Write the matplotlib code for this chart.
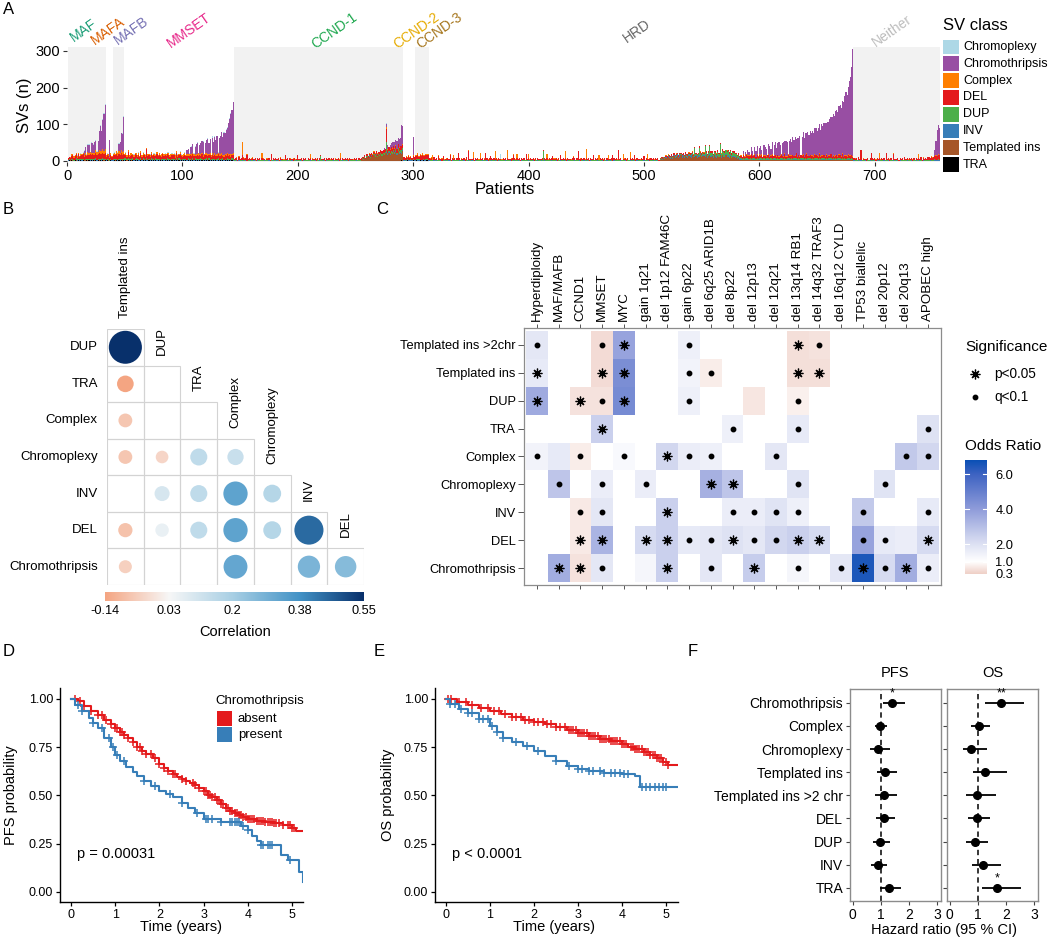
"""
Multi-panel SV figure: SV burden per patient, SV class correlation,
odds-ratio heatmap, Kaplan-Meier curves and hazard-ratio forest plot.
"""

import matplotlib.pyplot as plt
import numpy as np
from matplotlib.patches import Rectangle, Circle
from matplotlib.colors import LinearSegmentedColormap, Normalize
from matplotlib.transforms import blended_transform_factory

plt.rcParams['font.family'] = ['Liberation Sans', 'DejaVu Sans']

# ------------------------------------------------------------------ data A
sv_classes = ['Chromoplexy', 'Chromothripsis', 'Complex', 'DEL', 'DUP', 'INV', 'Templated ins', 'TRA']
sv_colors = {'Chromoplexy': '#ADD8E6', 'Chromothripsis': '#984EA3', 'Complex': '#FF7F00',
             'DEL': '#E41A1C', 'DUP': '#4DAF4A', 'INV': '#377EB8',
             'Templated ins': '#A65628', 'TRA': '#000000'}

groups = ['MAF', 'MAFA', 'MAFB', 'MMSET', 'CCND-1', 'CCND-2', 'CCND-3', 'HRD', 'Neither']
group_colors = ['#1B9E77', '#D95F02', '#7570B3', '#E7298A', '#1FA84F',
                '#E6AB02', '#A6761D', '#666666', '#BDBDBD']

# one token per patient, base-36 counts: TRA, Templated ins, INV, DUP, DEL, Complex, Chromoplexy
sv_tokens = [
    # MAF
    ["1012320 2013510 1101431 2022850 1113a21 0102641 2011922 1124b30 1013361 2112c40",
     "1022531 2111871 1013a40 2021d52 1102742 1113b60 2012931 1121c71 2013a52 1022f41",
     "2112b63 1013d40 2021a82 1112c51 2033e72 1021b93 2112d60 1113fa1 2022c81 1031e72",
     "2122ga2 1113d83 2022fb1"],
    # MAFA
    ["1012741 2021a52 1113850 0012631 2022b41 1011920"],
    # MAFB
    ["1013a52 2021c61 1112b40 2013d71 1021a83 2112e62 1013c51 2022f90 1113b72 2021d81"],
    # MMSET
    ["1015831 2023a52 1112640 2014h61 1013730 2021972 1113b51 2024840 1012662 2013c31",
     "1024950 2012741 1013a72 1021630 2014f51 1012840 2023963 1013b31 2011752 1024p40",
     "1012961 2013a30 1021672 2014c51 1013840 2022933 1011b52 2023641 1014d60 2012831",
     "1023a52 2011940 1014671 2022e30 1013852 2021b41 1012960 2024a33 1013c52 2012640",
     "1021861 2013b32 1014950 2022a41 1011672 2023g30 1012851 2014940 1023c62 2011a31",
     "1014650 2022841 1013b72 2021930 1012a51 2024640 1013863 2012c31 1021952 2014b40",
     "1012a61 2023632 1014850 2021b41 1013972 2012a30 1024651 2013c40 1011862 2022931",
     "1013b50 2014a41 1012972 2023830 1021c51 2012640 1014a63 2013831 1022b52 2011940",
     "1023861 2014c32 1012a50 2021941 1013b72 2024630 1012851 2013a40 1021962 2014b31",
     "1013850 2022a41 1011972 2023830 1014a51"],
    # CCND-1
    ["1001310 0102400 1011520 0001210 1012630 0101300 1002410 1012cz0 1001530 0102310",
     "1011400 0001g20 1002300 0101510 1011200 0002410 1001730 0111300 1002500 0001210",
     "1012400 0101300 1001610 0011200 10025d0 0101410 1011300 0002200 1001420 0102310",
     "1011500 0001300 1002g10 0101200 1011400 0002310 1001500 0111200 1002410 0001300",
     "1012520 0101400 1001300 0011210 1002c00 0101300 1011410 0002200 1001500 0102310",
     "1011300 0001420 1002500 0101210 1011300 0002d10 1001400 0111300 1002510 0001200",
     "1012400 0101310 1001500 0011200 1002400 0101310 10115a0 0002200 1001410 0102300",
     "1011500 0001310 1002400 0101200 1011510 000e300 1001400 0111210 1002500 0001300",
     "1012410 0101300 1001500 0011210 1002400 0101310 1011500 0002200 1001410 0102300",
     "1011400 0001310 10025f0 0101200 1011410 0002300 1001500 0111210 1002400 0001310",
     "1012500 0101300 1001400 0011210 1002500 0101310 1011400 0002200 1001510 0102300",
     "1201410 1501310 1302500 1712410 1401300 1912510 1602410 1b12520 1803610 1d12410",
     "1902510 1e12620 1b03510 1g12710 1a03620 1f12510 1c04710 1i13620 1d04810 1h13710",
     "1e24810 1k13720 1k3tz52 1g24820 1m14910 1f24820 1l15910 1h24a20 1o15910 1i24820",
     "1n26a10 1g15920 1p27a10 1j15920 1m26a10 2h38a20 1q26910"],
    # CCND-2
    ["1012620 0102510 1011830 2021420 1012930 0111610 1022720 1011510 2012830 1021620"],
    # CCND-3
    ["1012a30 2021820 1013c40 1022720 2011b30 1012920 1021d40 2012830 1011a20 1022c30 2013930 1012b40"],
    # HRD
    ["1011420 0102310 1001530 00112c0 1012620 0101300 1011410 0002200 1001c30 0102310",
     "1011300 0001420 1002a10 0101210 1011300 0002410 1001500 0111300 1002e10 0001200",
     "1012400 01013b0 1001600 0011200 1002400 0101j10 1011500 0002200 1001410 0102300",
     "1011500 0001310 1002900 0101200 1011p10 0002300 1001400 0111210 10025g0 0001300",
     "1012410 0101300 1001500 0011210 10024e0 0101310 1011500 0002200 1001410 0102k00",
     "1011400 0001310 1002500 0101c00 1011410 0002300 1001500 01112n0 1002400 0001310",
     "1012500 0101300 100140d 0011210 1002500 0101310 1011400 0002200 10015m0 0102300",
     "1011300 0001520 1002400 0101f10 1011500 0002210 10016a0 0111300 1002400 0001210",
     "1012400 0101310 1001500 0011200 1002h00 0101310 10114c0 0002210 1001500 0102300",
     "1011500 0001310 1002400 0101200 1011510 0002300 1001400 0111210 1002500 000s300",
     "1012410 0101300 10015d0 0011210 1002400 0101310 1011500 0002b00 1001410 0102310",
     "1011400 0001320 1002500 0101200 1011c10 0002300 1001500 0111210 10024j0 0001310",
     "1012500 0101300 1001400 0011210 1002500 0101a10 1011400 0002200 1001510 0102n00",
     "1011300 0001520 1002400 0101310 1011500 0002210 10016p0 0111300 1002400 0001210",
     "1012400 0101310 1001e00 0011200 1002400 0101310 1011400 00022b0 1001500 0102300",
     "1011500 0001310 1002400 0101200 1011510 00023a0 1001400 0111210 1002500 0001g00",
     "1012410 0101300 1001500 0011210 1002q00 0101310 1011500 0002200 10014c0 0102310",
     "1011400 0001320 1002500 0101200 10114h0 0002300 1001500 0111210 1002d00 0001310",
     "1012500 0101300 1001400 0011210 1002500 0101310 1011b00 0002200 1001510 01023e0",
     "1011300 0001520 1002400 0101310 1011500 0002210 1001600 0111300 1002400 0001210",
     "1211400 0511310 1311500 0721200 1411400 0911310 1611400 0b22210 1811500 0622300",
     "1a21500 0631310 1c22400 0841200 1b21510 0d51300 1731400 0b62210 1e21500 0872300",
     "1c22410 0931300 1f21500 0a42210 1832600 0d43310 1b22500 0784200 1e33410 0a22310",
     "1b2l400 0e33300 1824500 0c35210 1a2m600 0f34310 1925500 0d36200 1c24410 0a3r310",
     "1e35500 0836300 1c27400 0g2n210 1a28500 0d37310 1726400 0f28200 1b37510 0926310",
     "1d38400 0a27300 1g3p500 0828210 1e29600 0b3a310 1929500 0f3b200 1b2a410 0c3c310",
     "1829500 0d3b300 1628400 0b3b210 1a29500 0738310 1927400 0526200 1825510 0424310",
     "1133620 0212510 1124730 0213620 1132510 0224830 1133620 0212910 1124530 0213c20",
     "1132610 0224520 1133730 0212610 1124820 0213530 1132a10 0224620 1133730 0212510",
     "1124620 0213830 1132510 0224720 1133930 0212610 1124520 0213b30 1132610 0224520",
     "1133720 0212630 1124810 0213520 1132720 0224930 1133510 0212620 1124c30 0213610",
     "1132520 0224730 1133610 0212820 1124530 0213920 1132610 0224530 1133d20 0212610",
     "1124720 0213530 1132820 0224610 1133930 0212520 1124710 0213e20 1132630 0224510",
     "1133720 0212830 1124610 0213520 1132930 0224710 1133620 0212530 1124b20 0213610",
     "1132720 0224530 1133810 0212620 1124930 0213510 1132720 0224630 1133a10 0212520",
     "1133520 0212720 1124630 0213910 1132520 0224830 1133710 0212620 1124a30 0213510",
     "1124620 0213730 1132510 0224820 1133630 0212910 1124720 0213530"],
    # Neither
    ["1011400 0102310 1001500 0011200 1012610 0101300 1011q10 0002200 1001410 0102300",
     "1011300 0001410 1002500 0101200 1011400 0002k10 1001500 0111200 1002400 0001310",
     "1012410 0101300 10115e0 0011210 1002400 0101310 1011500 0002200 1001j10 0102300",
     "1011500 0001310 1002400 0101200 1011h10 0002300 1001400 0111210 1002500 0001300",
     "1012400 0101310 1001500 0011200 1002800 0101310 1011400 0002210 1001500 0102300",
     "1011400 0001310 1002500 0101200 1011510 0002300 10016c0 0111210 1002700 0001300",
     "1012510 0101400 1001600 0011310 1002700 0101810 1011600 0002a10 1001710 0102900",
     "1013810 0112a10 1012910 0113c10 1012b10"],
]

# chromothripsis SVs of the last patients of each group (groups are sorted by it)
chromothripsis_runs = [
    [12, 15, 0, 20, 22, 0, 25, 28, 20, 30, 25, 0, 30, 50, 70, 55, 80, 100, 122],
    [45, 0, 0],
    [20, 30, 45, 50, 95],
    [10, 15, 0, 18, 20, 25, 0, 22, 28, 30, 0, 25, 30, 32, 35, 0, 28, 35, 40, 30, 38,
     0, 42, 35, 45, 40, 48, 0, 45, 50, 55, 48, 60, 55, 65, 70, 85, 95, 110, 120, 140],
    [5, 0, 8, 10, 0, 12, 10, 15, 12, 18, 15, 20, 18, 22, 20, 55, 50],
    [50, 0],
    [],
    [8, 0, 12, 0, 15, 10, 0, 18, 12, 0, 20, 15, 22, 0, 18, 25, 12, 0, 28, 22,
     20, 0, 25, 30, 18, 32, 0, 28, 35, 22, 32, 38, 28, 0, 35, 40, 32, 42, 38, 0,
     40, 45, 35, 48, 42, 50, 38, 52, 45, 55, 0, 50, 58, 52, 60, 55, 62, 58, 66, 60,
     68, 62, 70, 74, 66, 76, 80, 72, 84, 80, 86, 90, 84, 95, 90, 98, 102, 108, 112, 108,
     118, 124, 120, 130, 136, 132, 142, 150, 160, 172, 168, 185, 200, 215, 240, 292],
    [15, 40, 70, 80, 75],
]

# ------------------------------------------------------------------ data B
corr_rows = ['DUP', 'TRA', 'Complex', 'Chromoplexy', 'INV', 'DEL', 'Chromothripsis']
corr_cols = ['Templated ins', 'DUP', 'TRA', 'Complex', 'Chromoplexy', 'INV', 'DEL']
nan = np.nan
corr_vals = [
    [0.55],
    [-0.14, nan],
    [-0.07, nan, nan],
    [-0.07, -0.04, 0.15, 0.13],
    [nan, 0.10, 0.15, 0.33, 0.17],
    [-0.08, 0.06, 0.15, 0.33, 0.17, 0.45],
    [-0.05, nan, nan, 0.32, nan, 0.28, 0.26],
]
corr_ticks = [-0.14, 0.03, 0.2, 0.38, 0.55]

# ------------------------------------------------------------------ data C
or_rows = ['Templated ins >2chr', 'Templated ins', 'DUP', 'TRA', 'Complex',
           'Chromoplexy', 'INV', 'DEL', 'Chromothripsis']
or_cols = ['Hyperdiploidy', 'MAF/MAFB', 'CCND1', 'MMSET', 'MYC', 'gain 1q21',
           'del 1p12 FAM46C', 'gain 6p22', 'del 6q25 ARID1B', 'del 8p22', 'del 12p13',
           'del 12q21', 'del 13q14 RB1', 'del 14q32 TRAF3', 'del 16q12 CYLD',
           'TP53 biallelic', 'del 20p12', 'del 20q13', 'APOBEC high']
or_vals = [
    [1.8, nan, nan, 0.5, 3.8, nan, nan, 1.5, nan, nan, nan, nan, 0.55, 0.6, nan, nan, nan, nan, nan],
    [1.7, nan, nan, 0.5, 4.5, nan, nan, 1.4, 0.75, nan, nan, nan, 0.55, 0.55, nan, nan, nan, nan, nan],
    [3.6, nan, 0.6, 0.6, 4.6, nan, nan, 1.5, nan, nan, 0.65, nan, 0.8, nan, nan, nan, nan, nan, nan],
    [nan, nan, nan, 2.5, nan, nan, nan, nan, nan, 1.5, nan, nan, 1.7, nan, nan, nan, nan, nan, 2.0],
    [1.4, 1.7, 0.75, nan, 1.2, nan, 2.3, 1.6, 1.5, nan, nan, 1.8, nan, nan, nan, nan, nan, 2.7, 2.3],
    [nan, 2.8, nan, 1.6, nan, 1.6, nan, nan, 3.4, 2.8, nan, nan, 1.9, nan, nan, nan, 1.9, nan, nan],
    [nan, nan, 0.7, 1.8, nan, nan, 2.5, nan, nan, 1.6, 1.6, 1.9, 1.5, nan, nan, 2.7, nan, nan, 1.7],
    [nan, nan, 0.7, 3.3, nan, 2.2, 2.5, 1.7, 1.8, 2.0, 1.8, 2.3, 2.5, 2.2, nan, 3.8, 1.7, 1.6, 2.2],
    [nan, 3.5, 0.6, 1.8, nan, 1.3, 2.5, nan, 1.8, nan, 2.6, nan, 1.3, nan, 1.8, 6.5, 2.2, 3.5, 1.6],
]
# '*' p<0.05, 'o' q<0.1
or_sig = [
    "o..o*..o....*o.....",
    "*..**..oo...**.....",
    "*.*o*..o....o......",
    "...*.....o..o.....o",
    "o.o.o.*oo..o.....oo",
    ".o.o.o..**..o...o..",
    "..oo..*..oooo..o..o",
    "..**.**oo*oo**.oo.*",
    ".**o..*.o.*.o.o*o*o",
]
or_ticks = [0.3, 1.0, 2.0, 4.0, 6.0]

# ------------------------------------------------------------------ data D/E
pfs_absent_t = [0, 0.15, 0.3, 0.45, 0.6, 0.75, 0.9, 1.0, 1.1, 1.2, 1.3, 1.4, 1.5, 1.6, 1.7, 1.85,
                2.0, 2.1, 2.2, 2.3, 2.4, 2.5, 2.6, 2.7, 2.8, 2.9, 3.0, 3.1, 3.2, 3.3, 3.4, 3.5,
                3.6, 3.7, 3.8, 3.9, 4.0, 4.2, 4.4, 4.6, 4.8, 5.0, 5.1]
pfs_absent_s = [1.0, 0.99, 0.965, 0.94, 0.915, 0.89, 0.87, 0.85, 0.83, 0.815, 0.80, 0.775, 0.75,
                0.73, 0.715, 0.695, 0.665, 0.645, 0.625, 0.61, 0.595, 0.585, 0.575, 0.565, 0.555,
                0.54, 0.525, 0.505, 0.49, 0.475, 0.455, 0.435, 0.42, 0.41, 0.40, 0.39, 0.38,
                0.37, 0.36, 0.355, 0.345, 0.33, 0.315]
pfs_present_t = [0, 0.1, 0.25, 0.4, 0.5, 0.6, 0.75, 0.9, 1.0, 1.1, 1.25, 1.4, 1.5, 1.65, 1.8, 2.0,
                 2.15, 2.3, 2.5, 2.65, 2.8, 3.0, 3.4, 3.85, 4.0, 4.1, 4.2, 4.3, 4.75, 4.9, 5.15, 5.25]
pfs_present_s = [1.0, 0.97, 0.94, 0.90, 0.875, 0.85, 0.80, 0.75, 0.71, 0.68, 0.65, 0.62, 0.60,
                 0.575, 0.55, 0.525, 0.51, 0.49, 0.46, 0.435, 0.41, 0.38, 0.365, 0.34, 0.32,
                 0.29, 0.265, 0.245, 0.19, 0.165, 0.105, 0.05]
pfs_absent_cens = [0.1, 0.2, 0.3, 0.45, 0.6, 0.7, 0.8, 0.9, 1.0, 1.05, 1.1, 1.15, 1.2, 1.3, 1.4,
                   1.5, 1.55, 1.6, 1.7, 1.8, 1.9, 2.0, 2.1, 2.2, 2.3, 2.35, 2.5, 2.6, 2.75, 2.8,
                   2.9, 3.0, 3.05, 3.1, 3.15, 3.2, 3.25, 3.3, 3.35, 3.4, 3.45, 3.5, 3.55, 3.6,
                   3.65, 3.7, 3.75, 3.8, 3.85, 3.9, 3.95, 4.0, 4.05, 4.1, 4.15, 4.2, 4.25, 4.3,
                   4.35, 4.4, 4.45, 4.5, 4.55, 4.6, 4.65, 4.7, 4.8, 4.9, 4.95, 5.0, 5.05]
pfs_present_cens = [0.15, 0.25, 0.5, 0.7, 0.85, 0.95, 1.05, 1.2, 1.65, 1.9, 2.25, 2.5, 2.85,
                    3.05, 3.1, 3.2, 3.4, 3.6, 3.65, 3.7, 3.75, 3.8, 3.9, 4.0, 4.3, 4.35, 4.45,
                    4.5, 4.55, 4.95]

os_absent_t = [0, 0.25, 0.5, 0.75, 1.0, 1.25, 1.5, 1.75, 2.0, 2.25, 2.5, 2.75, 3.0, 3.25, 3.5,
               3.75, 4.0, 4.15, 4.3, 4.5, 4.65, 4.8, 4.95, 5.05]
os_absent_s = [1.0, 0.985, 0.97, 0.955, 0.94, 0.92, 0.905, 0.89, 0.88, 0.87, 0.855, 0.84, 0.825,
               0.81, 0.795, 0.78, 0.765, 0.75, 0.74, 0.725, 0.71, 0.695, 0.675, 0.66]
os_present_t = [0, 0.1, 0.3, 0.5, 0.75, 1.0, 1.15, 1.3, 1.5, 1.75, 2.0, 2.25, 2.5, 2.75, 3.0,
                3.25, 3.6, 4.0, 4.3, 4.42]
os_present_s = [1.0, 0.975, 0.95, 0.93, 0.895, 0.86, 0.83, 0.80, 0.775, 0.755, 0.73, 0.705,
                0.68, 0.655, 0.635, 0.625, 0.615, 0.61, 0.60, 0.545]
os_absent_cens = [0.05, 0.12, 0.3, 0.45, 0.6, 0.8, 0.95, 1.1, 1.2, 1.35, 1.5, 1.6, 1.7, 1.8,
                  1.9, 2.0, 2.1, 2.2, 2.3, 2.4, 2.5, 2.6, 2.7, 2.8, 2.85, 2.9, 2.95, 3.0, 3.05,
                  3.1, 3.15, 3.2, 3.25, 3.3, 3.35, 3.4, 3.45, 3.5, 3.55, 3.6, 3.65, 3.7, 3.75,
                  3.8, 3.85, 3.9, 3.95, 4.0, 4.05, 4.1, 4.2, 4.25, 4.3, 4.35, 4.4, 4.45, 4.5,
                  4.55, 4.6, 4.65, 4.7, 4.75, 4.8, 4.85, 4.9, 4.95, 5.0, 5.05]
os_present_cens = [0.1, 0.2, 0.35, 0.5, 0.6, 0.75, 0.85, 0.95, 1.05, 1.15, 1.3, 1.6, 1.85, 2.1,
                   2.5, 2.8, 3.0, 3.1, 3.25, 3.35, 3.5, 3.6, 3.75, 3.85, 3.95, 4.05, 4.15,
                   4.45, 4.55, 4.65, 4.75, 4.85, 4.95, 5.0]
km_colors = {'absent': '#E41A1C', 'present': '#377EB8'}

# ------------------------------------------------------------------ data F
hr_labels = ['Chromothripsis', 'Complex', 'Chromoplexy', 'Templated ins', 'Templated ins >2 chr',
             'DEL', 'DUP', 'INV', 'TRA']
pfs_hr = [1.41, 0.97, 0.90, 1.16, 1.10, 1.10, 0.97, 0.89, 1.28]
pfs_lo = [1.08, 0.78, 0.63, 0.86, 0.78, 0.84, 0.72, 0.66, 0.96]
pfs_hi = [1.86, 1.23, 1.32, 1.59, 1.59, 1.50, 1.34, 1.22, 1.71]
pfs_sig = ['*', '', '', '', '', '', '', '', '']
os_hr = [1.84, 1.03, 0.76, 1.27, 0.96, 0.96, 0.90, 1.20, 1.68]
os_lo = [1.26, 0.76, 0.46, 0.82, 0.58, 0.66, 0.59, 0.79, 1.14]
os_hi = [2.65, 1.44, 1.32, 2.04, 1.66, 1.44, 1.38, 1.84, 2.53]
os_sig = ['**', '', '', '', '', '', '', '', '*']

# ------------------------------------------------------------------ figure
W, H = 1050, 938
fig = plt.figure(figsize=(W / 100, H / 100), dpi=100)


def place(x0, y0, x1, y1):
    """axes from pixel box (top-left origin)"""
    return fig.add_axes([x0 / W, 1 - y1 / H, (x1 - x0) / W, (y1 - y0) / H])


# transparent overlay in pixel units, drawn above the panels
over = place(0, 0, W, H)
over.set_xlim(0, W)
over.set_ylim(H, 0)
over.axis('off')
over.set_zorder(10)

for letter, (lx, ly) in zip('ABCDEF', [(3, 9), (3, 209), (376, 209), (3, 652), (374, 652), (688, 651)]):
    over.text(lx, ly, letter, fontsize=12, ha='left', va='center')


# ---------------------------------------------------------------- panel A
def decode(lines):
    toks = ' '.join(lines).split()
    return np.array([[int(c, 36) for c in tok] for tok in toks])


blocks = [decode(b) for b in sv_tokens]
sizes = [len(b) for b in blocks]
counts = np.vstack(blocks)
n_pat = counts.shape[0]
chromo = np.zeros(n_pat)
start = 0
for size, run in zip(sizes, chromothripsis_runs):
    end = start + size
    if run:
        chromo[end - len(run):end] = run
    start = end

layers = {'TRA': counts[:, 0], 'Templated ins': counts[:, 1], 'INV': counts[:, 2],
          'DUP': counts[:, 3], 'DEL': counts[:, 4], 'Complex': counts[:, 5],
          'Chromothripsis': chromo, 'Chromoplexy': counts[:, 6]}

axa = place(67, 47.3, 940, 162.1)
x = np.arange(1, n_pat + 1)
bottom = np.zeros(n_pat)
for cls in ['TRA', 'Templated ins', 'INV', 'DUP', 'DEL', 'Complex', 'Chromothripsis', 'Chromoplexy']:
    h = layers[cls]
    axa.bar(x, h, bottom=bottom, width=1.0, color=sv_colors[cls], linewidth=0, zorder=2)
    bottom = bottom + h

start = 0
for gi, size in enumerate(sizes):
    if gi % 2 == 0:
        axa.axvspan(start + 0.5, start + size + 0.5, color='#F2F2F2', lw=0, zorder=0)
    start += size

axa.set_xlim(0, 756.5)
axa.set_ylim(-3, 310)
axa.set_xticks(range(0, 701, 100))
axa.set_yticks([0, 100, 200, 300])
axa.tick_params(length=3, width=0.8, color='#333333', labelsize=10.5, pad=2)
for sp in axa.spines.values():
    sp.set_visible(False)

label_x = [18, 39, 59, 109, 235, 306, 326, 497, 718]
trans = blended_transform_factory(axa.transData, axa.transAxes)
for name, lx, col in zip(groups, label_x, group_colors):
    axa.text(lx, 1.095, name, transform=trans, color=col, fontsize=10, rotation=35,
             rotation_mode='anchor', ha='center', va='bottom')

over.text(25, 105, 'SVs (n)', rotation=90, ha='center', va='center', fontsize=12)
over.text(505, 190, 'Patients', ha='center', va='center', fontsize=12)

over.text(943, 25, 'SV class', fontsize=12, ha='left', va='center')
for k, cls in enumerate(sv_classes):
    cy = 47 + k * 16.8
    over.add_patch(Rectangle((943, cy - 7.4), 15.5, 14.8, color=sv_colors[cls], lw=0))
    over.text(963, cy, cls, fontsize=9, ha='left', va='center')

# ---------------------------------------------------------------- panel B
axb = place(107, 329, 364, 585)
axb.set_xlim(-0.5, 6.5)
axb.set_ylim(6.5, -0.5)
axb.axis('off')
cvmin, cvmax = corr_ticks[0], corr_ticks[-1]
span = cvmax - cvmin
corr_cmap = LinearSegmentedColormap.from_list('corr', [
    (0.0, '#F4A582'), ((0.03 - cvmin) / span, '#F7F7F7'), ((0.2 - cvmin) / span, '#A8CFE4'),
    ((0.38 - cvmin) / span, '#4292C6'), (1.0, '#08306B')])
corr_norm = Normalize(cvmin, cvmax)
cell_px = 36.6
for i, row in enumerate(corr_vals):
    axb.text(-0.75, i, corr_rows[i], ha='right', va='center', fontsize=9.5)
    for j, v in enumerate(row):
        axb.add_patch(Rectangle((j - 0.5, i - 0.5), 1, 1, fill=False, ec='#D3D3D3', lw=0.8))
        if not np.isnan(v):
            d = 11 + 40 * abs(v)
            axb.add_patch(Circle((j, i), d / 2 / cell_px, color=corr_cmap(corr_norm(v)), lw=0))
for j, name in enumerate(corr_cols):
    axb.text(j, j - 1 + 0.2, name, rotation=90, rotation_mode='anchor', ha='left',
             va='center', fontsize=9.5, clip_on=False)

cb = place(105, 592, 364, 601)
grad = np.linspace(cvmin, cvmax, 256).reshape(1, -1)
cb.imshow(grad, cmap=corr_cmap, norm=corr_norm, aspect='auto', extent=(cvmin, cvmax, 0, 1))
cb.set_xlim(cvmin, cvmax)
cb.set_yticks([])
cb.set_xticks(corr_ticks)
cb.set_xticklabels([f'{t:g}' for t in corr_ticks])
cb.tick_params(axis='x', length=0, labelsize=9.2, pad=3)
for sp in cb.spines.values():
    sp.set_visible(False)
over.text(235, 632, 'Correlation', ha='center', va='center', fontsize=10.5)

# ---------------------------------------------------------------- panel C
axc = place(524, 328, 941, 585)
or_cmap = LinearSegmentedColormap.from_list('or', [
    (0.0, '#EFCFC6'), ((1 - 0.3) / 6.5, '#FFFFFF'), ((2 - 0.3) / 6.5, '#DDE1F3'),
    ((4 - 0.3) / 6.5, '#8F9CDA'), ((6 - 0.3) / 6.5, '#3E63C2'), (1.0, '#0A50B5')])
or_norm = Normalize(0.3, 6.8)
M = np.ma.masked_invalid(np.array(or_vals, dtype=float))
axc.pcolormesh(np.arange(len(or_cols) + 1) - 0.5, np.arange(len(or_rows) + 1) - 0.5, M,
               cmap=or_cmap, norm=or_norm)
for i, srow in enumerate(or_sig):
    for j, ch in enumerate(srow):
        if ch == '*':
            axc.plot(j, i, marker=(8, 2, 0), ms=7, mew=0.9, color='black', ls='none')
        elif ch == 'o':
            axc.plot(j, i, marker='o', ms=3.2, color='black', ls='none')
axc.set_xlim(-0.6, len(or_cols) - 0.4)
axc.set_ylim(len(or_rows) - 0.4, -0.6)
axc.set_xticks(range(len(or_cols)))
axc.set_xticklabels(or_cols, rotation=90, fontsize=9.6)
axc.set_yticks(range(len(or_rows)))
axc.set_yticklabels(or_rows, fontsize=9.3)
axc.tick_params(axis='x', top=True, bottom=True, labeltop=True, labelbottom=False,
                length=3, width=0.7, color='#555555', pad=2)
axc.tick_params(axis='y', length=4, width=0.7, color='#555555', pad=2)
for sp in axc.spines.values():
    sp.set_color('#8C8C8C')
    sp.set_linewidth(0.9)

over.text(965, 347, 'Significance', fontsize=11, ha='left', va='center')
over.plot(975, 374, marker=(8, 2, 0), ms=7, mew=0.9, color='black')
over.text(994, 374, 'p<0.05', fontsize=9.8, ha='left', va='center')
over.plot(975, 397, marker='o', ms=3.2, color='black')
over.text(994, 397, 'q<0.1', fontsize=9.8, ha='left', va='center')
over.text(965, 446, 'Odds Ratio', fontsize=11, ha='left', va='center')

cc = place(965, 460, 987, 574)
vgrad = np.linspace(0.3, 6.8, 256).reshape(-1, 1)
cc.imshow(vgrad, cmap=or_cmap, norm=or_norm, aspect='auto', origin='lower', extent=(0, 1, 0.3, 6.8))
cc.set_ylim(0.3, 6.8)
cc.set_xlim(0, 1)
cc.set_xticks([])
cc.set_yticks(or_ticks)
cc.set_yticklabels([f'{t:.1f}' for t in or_ticks])
cc.yaxis.tick_right()
cc.tick_params(axis='y', length=0, labelsize=9.3, pad=6)
for t in or_ticks:
    cc.plot([0, 0.2], [t, t], color='white', lw=0.8)
    cc.plot([0.8, 1], [t, t], color='white', lw=0.8)
for sp in cc.spines.values():
    sp.set_visible(False)


# ---------------------------------------------------------------- panels D, E
def step_at(t, s, q):
    idx = np.searchsorted(t, q, side='right') - 1
    return np.asarray(s)[idx]


def km_panel(ax, curves, t_end, x_max, ylabel, ylab_x, xlab_x, ptext):
    for (t, s, cens), key in zip(curves, ['absent', 'present']):
        col = km_colors[key]
        ax.step(list(t) + [t_end], list(s) + [s[-1]], where='post', color=col, lw=1.5)
        ax.plot(cens, step_at(t, s, cens), ls='none', marker='+', ms=6, mew=1.1, color=col)
    ax.set_xlim(-0.25, x_max)
    ax.set_ylim(-0.052, 1.057)
    ax.set_xticks(range(6))
    ax.set_yticks([0, 0.25, 0.5, 0.75, 1.0])
    ax.set_yticklabels(['0.00', '0.25', '0.50', '0.75', '1.00'])
    ax.tick_params(length=3, width=0.9, labelsize=9, pad=2)
    for side in ['top', 'right']:
        ax.spines[side].set_visible(False)
    for side in ['left', 'bottom']:
        ax.spines[side].set_linewidth(1.0)
    ax.set_ylabel(ylabel, fontsize=10.5)
    ax.set_xlabel('Time (years)', fontsize=10.5)
    ax.yaxis.set_label_coords(ylab_x, 0.5)
    ax.xaxis.set_label_coords(xlab_x, -0.085)
    ax.text(0.13, 0.197, ptext, fontsize=10.5, ha='left', va='center')


axd = place(60, 688, 303, 902)
km_panel(axd, [(pfs_absent_t, pfs_absent_s, pfs_absent_cens),
               (pfs_present_t, pfs_present_s, pfs_present_cens)],
         5.25, 5.25, 'PFS probability', -0.173, 0.5, 'p = 0.00031')

axe = place(435, 688, 678, 902)
km_panel(axe, [(os_absent_t, os_absent_s, os_absent_cens),
               (os_present_t, os_present_s, os_present_cens)],
         5.28, 5.28, 'OS probability', -0.166, 0.49, 'p < 0.0001')

over.text(215, 701, 'Chromothripsis', fontsize=9.5, ha='left', va='center')
for k, key in enumerate(['absent', 'present']):
    cy = 718.5 + k * 16.5
    over.add_patch(Rectangle((217, cy - 7.5), 15, 15, color=km_colors[key], lw=0))
    over.text(238, cy, key, fontsize=9.5, ha='left', va='center')

# ---------------------------------------------------------------- panel F
axf1 = place(850, 689, 941, 901)
axf2 = place(947, 689, 1038, 901)
yy = np.arange(len(hr_labels))
for ax, hr, lo, hi, sig, title in [(axf1, pfs_hr, pfs_lo, pfs_hi, pfs_sig, 'PFS'),
                                   (axf2, os_hr, os_lo, os_hi, os_sig, 'OS')]:
    ax.axvline(1, color='black', ls=(0, (3.5, 2.5)), lw=1.1, zorder=1)
    ax.hlines(yy, lo, hi, color='black', lw=1.3, zorder=2)
    ax.plot(hr, yy, 'o', color='black', ms=5.5, zorder=3)
    for i, s in enumerate(sig):
        if s:
            ax.text(hr[i], i - 0.42, s, ha='center', va='center', fontsize=9)
    ax.set_xlim(-0.1, 3.15)
    ax.set_ylim(8.57, -0.6)
    ax.set_xticks([0, 1, 2, 3])
    ax.set_yticks(yy)
    ax.tick_params(length=3, width=0.8, color='#444444', labelsize=10, pad=2)
    for sp in ax.spines.values():
        sp.set_color('#8C8C8C')
        sp.set_linewidth(1.0)
    ax.text(0.5, 1.075, title, transform=ax.transAxes, ha='center', va='center', fontsize=10.5)
axf1.set_yticklabels(hr_labels, fontsize=10)
axf2.set_yticklabels([])
over.text(944, 930, 'Hazard ratio (95 % CI)', ha='center', va='center', fontsize=10.5)

fig.savefig('out.png', dpi=100)
